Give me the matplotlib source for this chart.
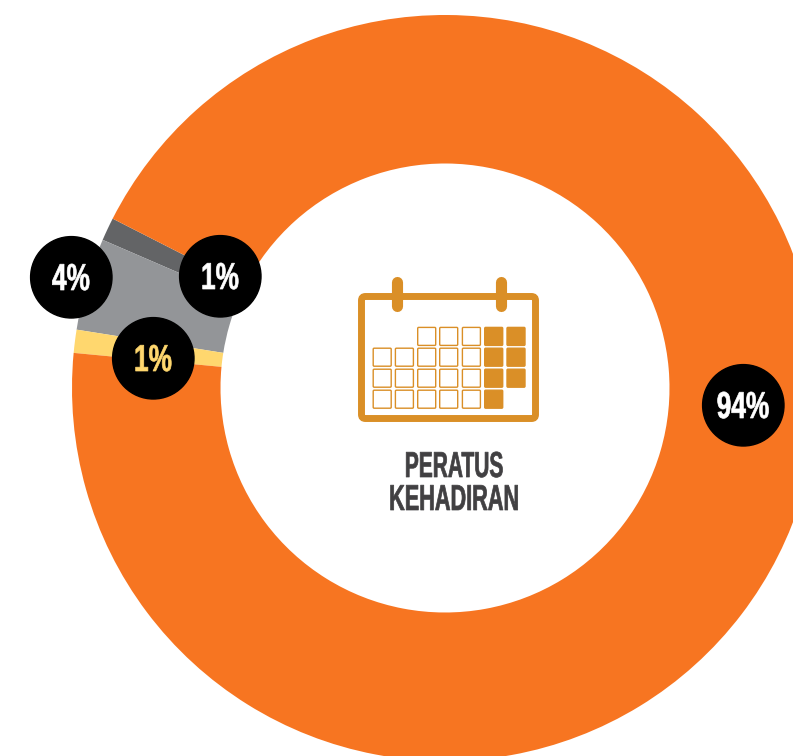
import matplotlib
matplotlib.use('Agg')
import matplotlib.pyplot as plt
from matplotlib.patches import Circle, FancyBboxPatch
from matplotlib.patheffects import AbstractPathEffect
from matplotlib.transforms import Affine2D

# Attendance shares, anticlockwise from the top of the small slices
values = [1, 4, 1, 94]
colors = ['#636466', '#939598', '#FFD76E', '#F77521']

# Badges: label, x, y (pixels), text colour
badge_labels = ['1%', '4%', '1%', '94%']
badge_x = [220, 71, 153, 743]
badge_y = [276, 277, 358, 405]
badge_text = ['white', 'white', '#FFD76E', 'white']

# Calendar cells, one string per row: . empty, o outlined, x filled
calendar_rows = ['..oooxx', 'oooooxx', 'oooooxx', 'ooooox.']
cal_col_x = [373.2, 395.4, 417.7, 439.7, 462.4, 484.7, 507]
cal_row_y = [327.4, 348.2, 369.2, 390.2]
gold = '#DA8F27'
cell = 18


class Squeeze(AbstractPathEffect):
    # narrows a text around its centre, no condensed poster font is installed
    def __init__(self, cx, xscale):
        super().__init__()
        self.cx = cx
        self.xscale = xscale

    def draw_path(self, renderer, gc, tpath, affine, rgbFace=None):
        squeeze = Affine2D().translate(-self.cx, 0).scale(self.xscale, 1).translate(self.cx, 0)
        gc0 = renderer.new_gc()
        gc0.copy_properties(gc)
        gc0.set_foreground(rgbFace)
        gc0.set_linewidth(0.5)
        renderer.draw_path(gc0, tpath, affine + squeeze, rgbFace)
        gc0.restore()


def label(x, y, s, color, size, xscale, zorder=6):
    t = ax.text(x, y, s, color=color, fontsize=size, fontweight='bold', family='Liberation Sans',
                ha='center', va='baseline', zorder=zorder)
    t.set_path_effects([Squeeze(x, xscale)])


fig = plt.figure(figsize=(7.93, 7.56), dpi=100)
ax = fig.add_axes([0, 0, 1, 1])

ax.pie(values, colors=colors, startangle=-153, counterclock=False,
       center=(445, 388), radius=373, frame=False,
       wedgeprops={'width': 148.5, 'linewidth': 0})
ax.set_xlim(0, 793)
ax.set_ylim(756, 0)
ax.set_aspect('equal')
ax.axis('off')

for x, y, lab, col in zip(badge_x, badge_y, badge_labels, badge_text):
    ax.add_patch(Circle((x + 0.3, y + 0.3), 40.7, color='black', zorder=5))
    label(x, y + 13, lab, col, 27, 0.7)

# calendar frame and rings
ax.add_patch(FancyBboxPatch((361.5, 296.5), 174, 122, boxstyle='round,pad=0,rounding_size=4',
                            fc='none', ec=gold, lw=5, zorder=3))
for x in [397, 501]:
    ax.plot([x, x], [282, 306], color=gold, lw=8, solid_capstyle='round', zorder=4)

for r, row in enumerate(calendar_rows):
    for c, kind in enumerate(row):
        if kind == '.':
            continue
        ax.add_patch(FancyBboxPatch((cal_col_x[c], cal_row_y[r]), cell, cell,
                                    boxstyle='round,pad=0,rounding_size=1',
                                    fc=gold if kind == 'x' else 'white', ec=gold, lw=1.0, zorder=3))

label(454, 477, 'PERATUS', '#414042', 26, 0.58, zorder=3)
label(454, 510, 'KEHADIRAN', '#414042', 26, 0.6, zorder=3)

fig.savefig('out.png', dpi=100)
